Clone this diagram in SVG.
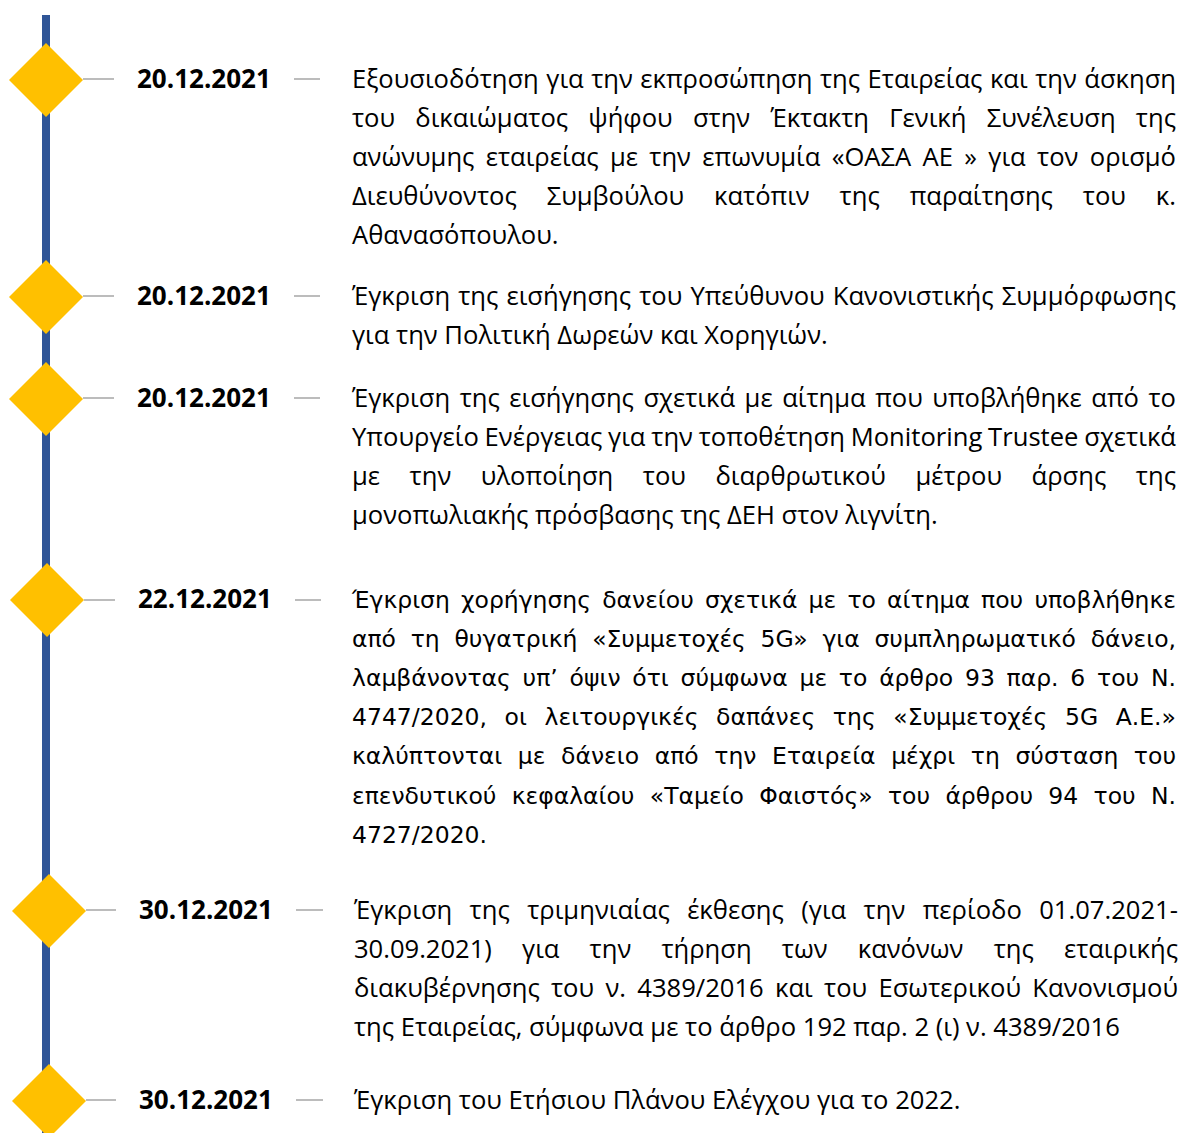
<svg xmlns="http://www.w3.org/2000/svg" width="1179" height="1133" viewBox="0 0 1179 1133">
<style>
.bg{fill:#ffffff}
.spine{fill:#2F5597}
.dia{fill:#FFC000}
.tick{stroke:#A6A6A6;stroke-width:1.5}
.date{font-family:"Open Sans","Noto Sans",sans-serif;font-weight:700;font-size:26px;fill:#000}
.t{font-family:"Open Sans","Noto Sans",sans-serif;font-size:25.6px;fill:#000}
.v{font-family:"DejaVu Sans",sans-serif;font-size:23.5px;fill:#000}
</style>
<rect class="bg" x="0" y="0" width="1179" height="1133"/>
<rect class="spine" x="42" y="15" width="8" height="1118"/>
<g id="connectors">
<line class="tick" x1="83" y1="79" x2="114" y2="79"/><line class="tick" x1="294" y1="79" x2="320" y2="79"/>
<line class="tick" x1="83" y1="296" x2="114" y2="296"/><line class="tick" x1="294" y1="296" x2="320" y2="296"/>
<line class="tick" x1="83" y1="398" x2="114" y2="398"/><line class="tick" x1="294" y1="398" x2="320" y2="398"/>
<line class="tick" x1="84" y1="600" x2="115" y2="600"/><line class="tick" x1="295" y1="600" x2="321" y2="600"/>
<line class="tick" x1="86" y1="910" x2="116" y2="910"/><line class="tick" x1="296" y1="910" x2="323" y2="910"/>
<line class="tick" x1="86" y1="1100" x2="116" y2="1100"/><line class="tick" x1="296" y1="1100" x2="323" y2="1100"/>
</g>
<g id="n1">
<polygon class="dia" points="46,43 83,80 46,117 9,80"/>
<text class="date" x="137" y="88">20.12.2021</text>
<text class="t" x="352" y="88" textLength="824" lengthAdjust="spacing" word-spacing="0.9">Εξουσιοδότηση για την εκπροσώπηση της Εταιρείας και την άσκηση</text>
<text class="t" x="352" y="127" textLength="824" lengthAdjust="spacing" word-spacing="13.6">του δικαιώματος ψήφου στην Έκτακτη Γενική Συνέλευση της</text>
<text class="t" x="352" y="166" textLength="824" lengthAdjust="spacing" word-spacing="4.8">ανώνυμης εταιρείας με την επωνυμία «ΟΑΣΑ ΑΕ » για τον ορισμό</text>
<text class="t" x="352" y="205" textLength="824" lengthAdjust="spacing" word-spacing="23.3">Διευθύνοντος Συμβούλου κατόπιν της παραίτησης του κ.</text>
<text class="t" x="352" y="244">Αθανασόπουλου.</text>
</g>
<g id="n2">
<polygon class="dia" points="46,260 83,297 46,334 9,297"/>
<text class="date" x="137" y="305">20.12.2021</text>
<text class="t" x="352" y="305" textLength="824" lengthAdjust="spacing" word-spacing="1.5">Έγκριση της εισήγησης του Υπεύθυνου Κανονιστικής Συμμόρφωσης</text>
<text class="t" x="352" y="344">για την Πολιτική Δωρεών και Χορηγιών.</text>
</g>
<g id="n3">
<polygon class="dia" points="46,362 83,399 46,436 9,399"/>
<text class="date" x="137" y="407">20.12.2021</text>
<text class="t" x="352" y="407" textLength="824" lengthAdjust="spacing" word-spacing="2.9">Έγκριση της εισήγησης σχετικά με αίτημα που υποβλήθηκε από το</text>
<text class="t" x="352" y="446" textLength="824" lengthAdjust="spacing" word-spacing="-0.9">Υπουργείο Ενέργειας για την τοποθέτηση Monitoring Trustee σχετικά</text>
<text class="t" x="352" y="485" textLength="824" lengthAdjust="spacing" word-spacing="22.9">με την υλοποίηση του διαρθρωτικού μέτρου άρσης της</text>
<text class="t" x="352" y="524">μονοπωλιακής πρόσβασης της ΔΕΗ στον λιγνίτη.</text>
</g>
<g id="n4">
<polygon class="dia" points="47,563 84,600 47,637 10,600"/>
<text class="date" x="138" y="608">22.12.2021</text>
<text class="v" x="352" y="608" textLength="824" lengthAdjust="spacing" word-spacing="3.75">Έγκριση χορήγησης δανείου σχετικά με το αίτημα που υποβλήθηκε</text>
<text class="v" x="352" y="647" textLength="824" lengthAdjust="spacing" word-spacing="7.3">από τη θυγατρική «Συμμετοχές 5G» για συμπληρωματικό δάνειο,</text>
<text class="v" x="352" y="686" textLength="824" lengthAdjust="spacing" word-spacing="4.3">λαμβάνοντας υπ’ όψιν ότι σύμφωνα με το άρθρο 93 παρ. 6 του Ν.</text>
<text class="v" x="352" y="725" textLength="824" lengthAdjust="spacing" word-spacing="10.1">4747/2020, οι λειτουργικές δαπάνες της «Συμμετοχές 5G Α.Ε.»</text>
<text class="v" x="352" y="764" textLength="824" lengthAdjust="spacing" word-spacing="8.1">καλύπτονται με δάνειο από την Εταιρεία μέχρι τη σύσταση του</text>
<text class="v" x="352" y="804" textLength="824" lengthAdjust="spacing" word-spacing="7.9">επενδυτικού κεφαλαίου «Ταμείο Φαιστός» του άρθρου 94 του Ν.</text>
<text class="v" x="352" y="843">4727/2020.</text>
</g>
<g id="n5">
<polygon class="dia" points="49,874 86,911 49,948 12,911"/>
<text class="date" x="139" y="919">30.12.2021</text>
<text class="t" x="354" y="919" textLength="824" lengthAdjust="spacing" word-spacing="10.7">Έγκριση της τριμηνιαίας έκθεσης (για την περίοδο 01.07.2021-</text>
<text class="t" x="354" y="958" textLength="824" lengthAdjust="spacing" word-spacing="23.6">30.09.2021) για την τήρηση των κανόνων της εταιρικής</text>
<text class="t" x="354" y="997" textLength="824" lengthAdjust="spacing" word-spacing="4.6">διακυβέρνησης του ν. 4389/2016 και του Εσωτερικού Κανονισμού</text>
<text class="t" x="354" y="1036">της Εταιρείας, σύμφωνα με το άρθρο 192 παρ. 2 (ι) ν. 4389/2016</text>
</g>
<g id="n6">
<polygon class="dia" points="49,1064 86,1101 49,1138 12,1101"/>
<text class="date" x="139" y="1109">30.12.2021</text>
<text class="t" x="354" y="1109">Έγκριση του Ετήσιου Πλάνου Ελέγχου για το 2022.</text>
</g>
</svg>
